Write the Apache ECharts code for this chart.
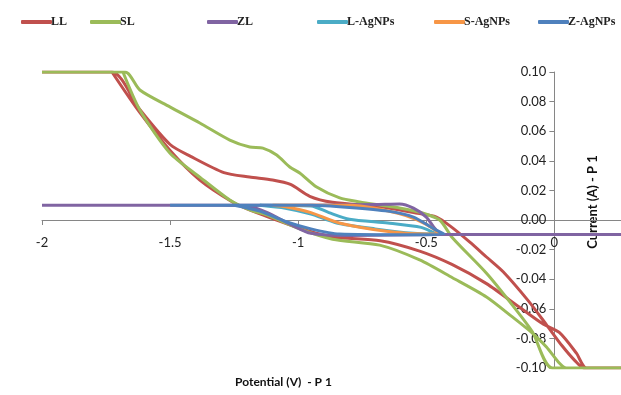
<!DOCTYPE html>
<html>
<head>
<meta charset="utf-8">
<script src="https://cdn.jsdelivr.net/npm/echarts@6/dist/echarts.min.js"></script>
<style>
  html, body { margin: 0; padding: 0; background: #fff; }
  #chart { width: 621px; height: 395px; }
</style>
</head>
<body>
<div id="chart"></div>
<script>
// 图例名称和颜色
const seriesNames = ['LL', 'SL', 'ZL', 'L-AgNPs', 'S-AgNPs', 'Z-AgNPs']
const seriesColors = ['#c0504d', '#9bbb59', '#8064a2', '#4bacc6', '#f79646', '#4f81bd']
const legendLeft = [16, 85, 202, 312, 429, 533]

// 每条曲线: 电位 (V) 和 电流 (A), 先正扫再回扫
const llPotential = [-2, -1.727, -1.62, -1.5, -1.42, -1.29, -1.19, -1.1, -1.03, -0.955, -0.866, -0.68, -0.55, -0.46, -0.4, -0.33, -0.265, -0.2, -0.1, -0.03, 0.03, 0.08, 0.115, 0.26,
  0.125, 0.086, 0.019, -0.047, -0.136, -0.265, -0.4, -0.526, -0.68, -0.866, -0.994, -1.1, -1.19, -1.255, -1.384, -1.5, -1.62, -1.727]
const llCurrent = [0.1, 0.1, 0.075, 0.051, 0.043, 0.032, 0.029, 0.027, 0.024, 0.016, 0.012, 0.009, 0.005, 0.002, -0.005, -0.015, -0.025, -0.035, -0.055, -0.071, -0.085, -0.095, -0.1, -0.1,
  -0.1, -0.09, -0.076, -0.07, -0.059, -0.043, -0.03, -0.021, -0.014, -0.0115, -0.0055, 0.001, 0.0068, 0.012, 0.027, 0.047, 0.073, 0.1]

const slPotential = [-2, -1.676, -1.618, -1.501, -1.384, -1.267, -1.189, -1.138, -1.084, -1.033, -0.994, -0.928, -0.838, -0.76, -0.682, -0.6, -0.52, -0.448, -0.398, -0.265, -0.164, -0.086, -0.008, 0.26,
  0.047, 0.019, -0.031, -0.086, -0.164, -0.265, -0.398, -0.526, -0.682, -0.866, -0.994, -1.123, -1.189, -1.267, -1.384, -1.501, -1.618, -1.684]
const slCurrent = [0.1, 0.1, 0.0878, 0.0764, 0.0655, 0.054, 0.0493, 0.0486, 0.0439, 0.0358, 0.0318, 0.0223, 0.0149, 0.0122, 0.0101, 0.008, 0.005, 0, -0.012, -0.036, -0.0575, -0.0755, -0.1, -0.1,
  -0.1, -0.0966, -0.0858, -0.0764, -0.0655, -0.052, -0.039, -0.027, -0.017, -0.013, -0.006, 0.0034, 0.0068, 0.0135, 0.029, 0.0453, 0.0743, 0.1]

const zlPotential = [-2, -1.0, -0.7, -0.604, -0.55, -0.5, -0.47, -0.44, 0.26,
  -0.44, -0.8, -0.95, -1.03, -1.12, -1.2, -1.3]
const zlCurrent = [0.01, 0.01, 0.0105, 0.0108, 0.008, 0.002, -0.005, -0.0098, -0.0098,
  -0.0098, -0.0105, -0.009, -0.003, 0.005, 0.0095, 0.01]

const lAgPotential = [-1.15, -0.95, -0.88, -0.8, -0.65, -0.52, -0.46,
  -0.55, -0.7, -0.85, -0.95, -1.05, -1.15]
const lAgCurrent = [0.01, 0.0095, 0.005, 0.0005, -0.002, -0.005, -0.0095,
  -0.009, -0.006, -0.002, 0.004, 0.008, 0.01]

const sAgPotential = [-1.1, -0.8, -0.7, -0.58, -0.5, -0.45,
  -0.5, -0.64, -0.84, -0.95, -1.05, -1.1]
const sAgCurrent = [0.01, 0.01, 0.008, 0.003, -0.003, -0.009,
  -0.0095, -0.008, -0.002, 0.005, 0.009, 0.01]

const zAgPotential = [-1.5, -0.95, -0.8, -0.65, -0.55, -0.47, -0.43,
  -0.55, -0.84, -0.95, -1.05, -1.15, -1.25]
const zAgCurrent = [0.01, 0.01, 0.0085, 0.006, 0.002, -0.006, -0.0095,
  -0.01, -0.0095, -0.006, -0.001, 0.006, 0.01]

// 坐标轴刻度
const xTicks = { min: -2, max: 0.26, interval: 0.5 }
const yTicks = { min: -0.1, max: 0.1, interval: 0.02 }

const curves = [
  [llPotential, llCurrent],
  [slPotential, slCurrent],
  [zlPotential, zlCurrent],
  [lAgPotential, lAgCurrent],
  [sAgPotential, sAgCurrent],
  [zAgPotential, zAgCurrent]
]

const myChart = echarts.init(document.querySelector('#chart'))

// 网格位置, 坐标轴移到 0 处要用到
const grid = { left: 42, right: 0, top: 72, bottom: 27 }
const plotW = 621 - grid.left - grid.right
const plotH = 395 - grid.top - grid.bottom
// x 轴放在 y=0 处, y 轴放在 x=0 处
const xOffset = -plotH * (0 - yTicks.min) / (yTicks.max - yTicks.min)
const yOffset = -plotW * (0 - xTicks.min) / (xTicks.max - xTicks.min)

const option = {
  animation: false,
  color: seriesColors,
  // 每个图例单独摆放
  legend: seriesNames.map((name, i) => ({
    data: [name],
    left: legendLeft[i],
    top: 11,
    icon: 'roundRect',
    itemWidth: 31,
    itemHeight: 4,
    textStyle: {
      fontFamily: 'Liberation Serif',
      fontWeight: 'bold',
      fontSize: 12,
      color: '#222',
      padding: [0, 0, 0, -6]
    }
  })),
  grid: Object.assign({ outerBoundsMode: 'none' }, grid),
  xAxis: {
    type: 'value',
    min: xTicks.min,
    max: xTicks.max,
    interval: xTicks.interval,
    offset: xOffset,
    name: 'Potential (V)  - P 1',
    nameLocation: 'middle',
    nameGap: 156,
    nameTextStyle: {
      fontFamily: 'Lato',
      fontWeight: 'bold',
      fontSize: 12,
      color: '#111',
      padding: [0, 96, 0, 0]
    },
    axisLine: { onZero: false, lineStyle: { color: '#868686' } },
    axisTick: { length: 5, lineStyle: { color: '#868686' } },
    splitLine: { show: false },
    axisLabel: {
      margin: 16,
      fontFamily: 'Lato',
      fontSize: 13,
      color: '#222',
      formatter: v => (v > 0.01 ? '' : String(v))
    }
  },
  yAxis: {
    type: 'value',
    position: 'left',
    offset: yOffset,
    min: yTicks.min,
    max: yTicks.max,
    interval: yTicks.interval,
    name: 'Current (A) - P 1',
    nameLocation: 'middle',
    nameGap: -45,
    nameRotate: 90,
    nameTextStyle: {
      fontFamily: 'Lato',
      fontWeight: 'bold',
      fontSize: 13,
      color: '#111',
      padding: [0, 0, 0, 36]
    },
    axisLine: { show: true, onZero: false, lineStyle: { color: '#868686' } },
    axisTick: { show: true, length: 5, lineStyle: { color: '#868686' } },
    splitLine: { show: false },
    axisLabel: {
      margin: 8,
      fontFamily: 'Lato',
      fontSize: 13,
      color: '#222',
      formatter: v => v.toFixed(2)
    }
  },
  series: curves.map(([pot, cur], i) => ({
    name: seriesNames[i],
    type: 'line',
    smooth: 0.25,
    showSymbol: false,
    symbol: 'none',
    lineStyle: { width: 3 },
    data: pot.map((v, j) => [v, cur[j]])
  }))
}

myChart.setOption(option)
</script>
</body>
</html>
